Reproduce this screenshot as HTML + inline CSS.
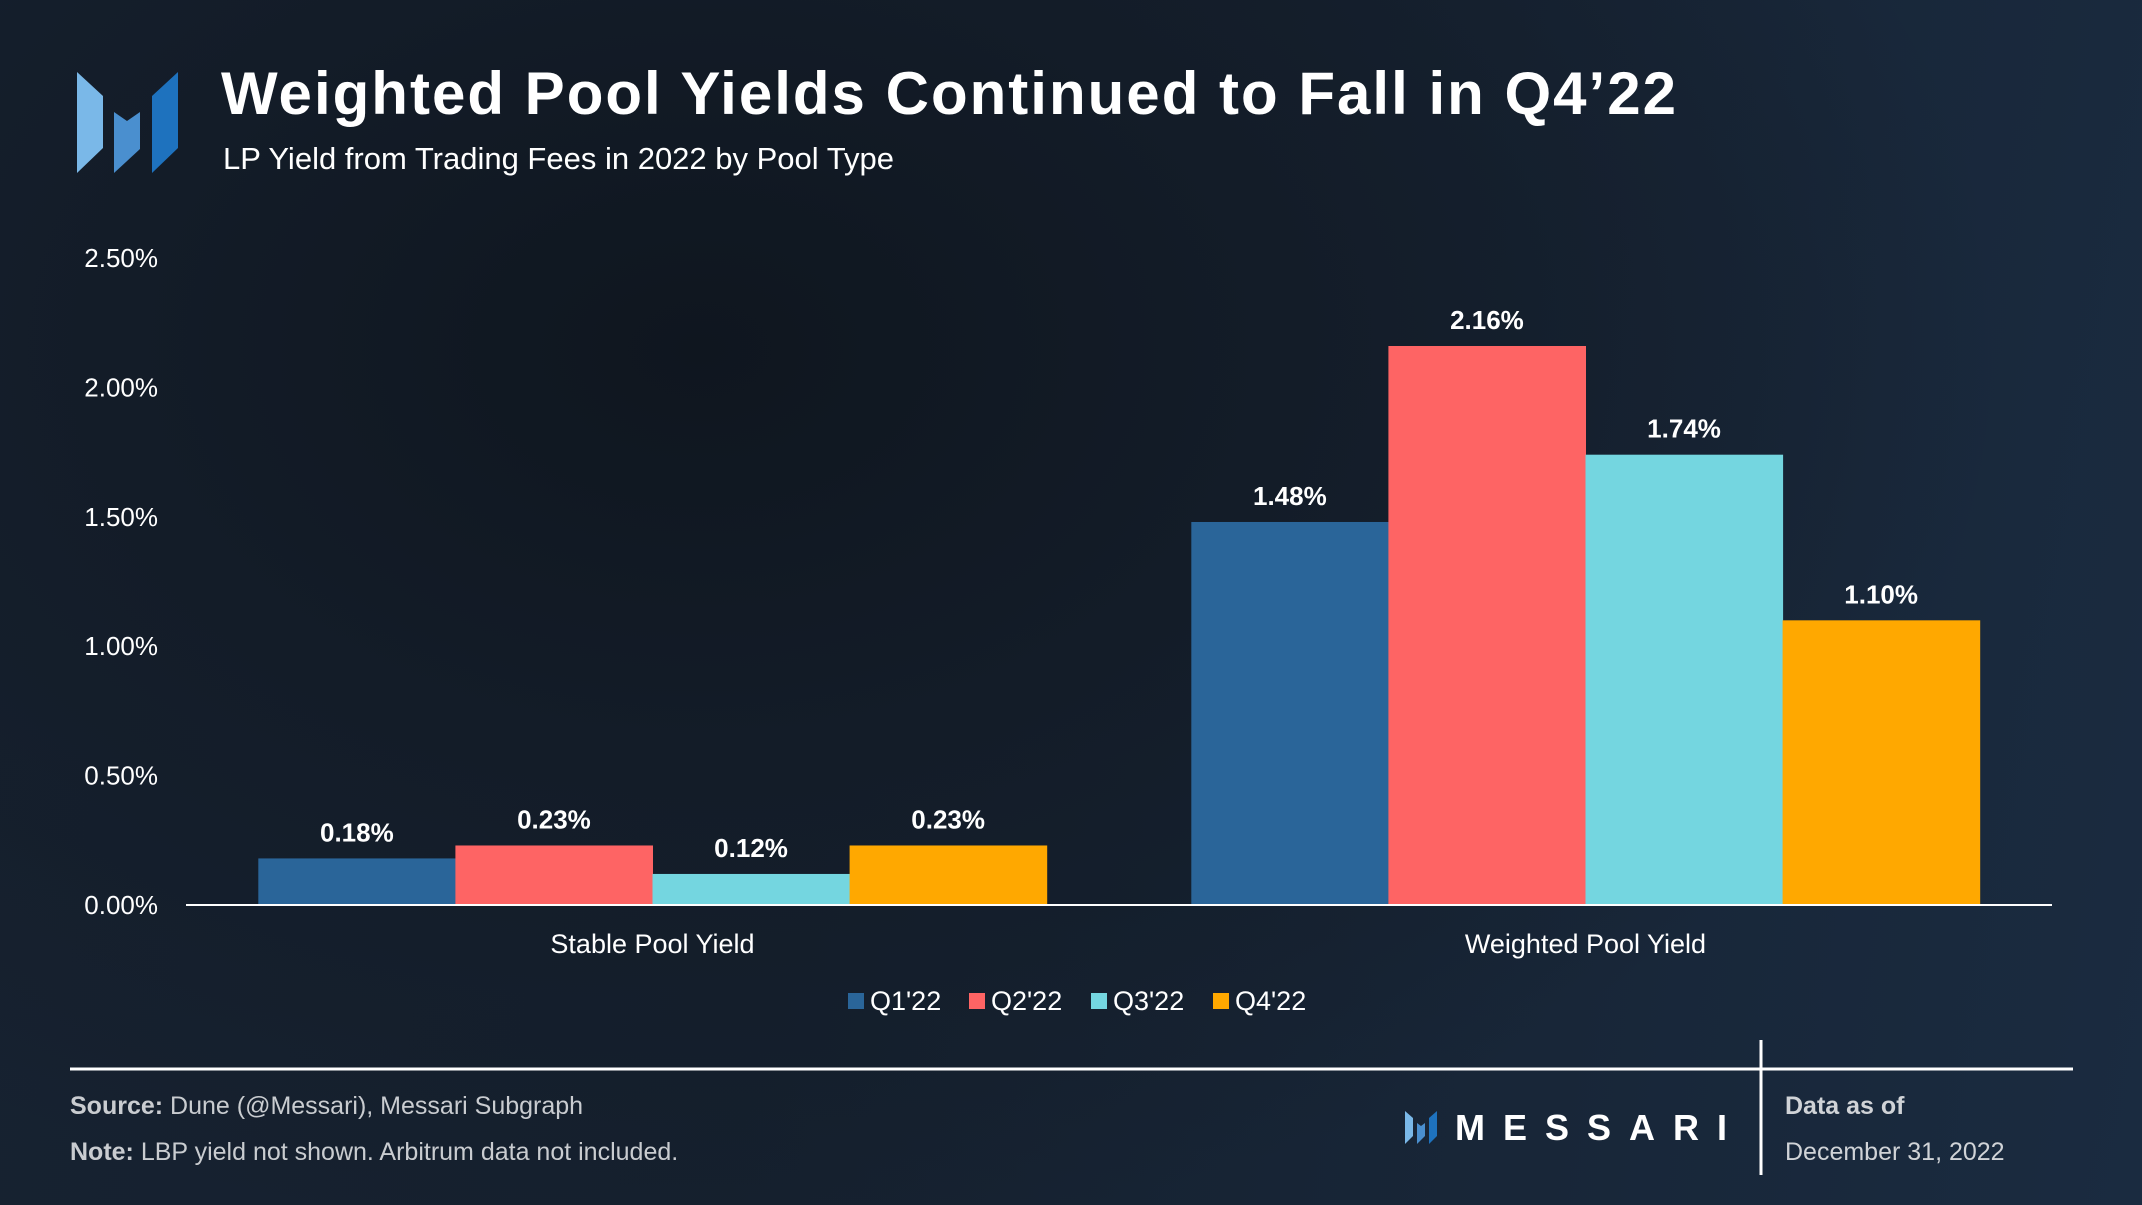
<!DOCTYPE html>
<html><head><meta charset="utf-8"><style>
html,body{margin:0;padding:0}
body{width:2142px;height:1205px;overflow:hidden;font-family:"Liberation Sans",sans-serif;
background:radial-gradient(ellipse 1300px 900px at 700px 350px,#0f161f 0%,#131c28 45%,rgba(19,28,40,0) 100%),linear-gradient(100deg,#172231 0%,#15202e 40%,#1a2b40 100%);}
svg{position:absolute;left:0;top:0}
</style></head><body>
<svg width="2142" height="1205">
<g>
<polygon points="77,72 103,96 103,148 77,173" fill="#7ab8e8"/>
<polygon points="114,112 127,121 140,112 140,149 114,173" fill="#4a8fcf"/>
<polygon points="152,96 178,72 178,148 152,173" fill="#1e72be"/>
</g>
<text x="221" y="114" fill="#fff" font-size="60" font-weight="bold" textLength="1455" lengthAdjust="spacing">Weighted Pool Yields Continued to Fall in Q4’22</text>
<text x="223" y="169" fill="#fff" font-size="31">LP Yield from Trading Fees in 2022 by Pool Type</text>
<g id="yaxis"></g>
<g id="bars"></g>
<line x1="186" y1="905" x2="2052" y2="905" stroke="#fff" stroke-width="2"/>
<g id="xlabels"></g>
<g id="legend"></g>
<line x1="70" y1="1069" x2="2073" y2="1069" stroke="#fff" stroke-width="3"/>
<line x1="1761" y1="1040" x2="1761" y2="1175" stroke="#fff" stroke-width="3"/>
<text x="70" y="1114" fill="#c9ccd0" font-size="25"><tspan font-weight="bold">Source:</tspan> Dune (@Messari), Messari Subgraph</text>
<text x="70" y="1160" fill="#c9ccd0" font-size="25"><tspan font-weight="bold">Note:</tspan> LBP yield not shown. Arbitrum data not included.</text>
<g>
<polygon points="1405,1111 1413,1118 1413,1136 1405,1144" fill="#7ab8e8"/>
<polygon points="1417,1123 1421,1126 1425,1123 1425,1136 1417,1144" fill="#4a8fcf"/>
<polygon points="1429,1118 1437,1111 1437,1136 1429,1144" fill="#1e72be"/>
<text x="1455" y="1140" fill="#fff" font-size="36" font-weight="bold" textLength="272" lengthAdjust="spacing">MESSARI</text>
</g>
<text x="1785" y="1114" fill="#d0d3d7" font-size="25" font-weight="bold">Data as of</text>
<text x="1785" y="1160" fill="#d0d3d7" font-size="25">December 31, 2022</text>
</svg>
<script>
const categories=["Stable Pool Yield","Weighted Pool Yield"];
const seriesNames=["Q1'22","Q2'22","Q3'22","Q4'22"];
const q1=[0.18,1.48];
const q2=[0.23,2.16];
const q3=[0.12,1.74];
const q4=[0.23,1.10];
const yTicks=[0,0.5,1,1.5,2,2.5];
const colors=["#2a6599","#fe6464","#74d6e0","#ffa800"];
const series=[q1,q2,q3,q4];
const NS="http://www.w3.org/2000/svg";
const x0=186,x1=2052,y0=905,yTop=258,yMax=2.5;
const yScale=v=>y0-(v/yMax)*(y0-yTop);
const band=(x1-x0)/categories.length;
const barW=band*0.845/series.length;
function mk(tag,attrs,parent,txt){const e=document.createElementNS(NS,tag);for(const k in attrs)e.setAttribute(k,attrs[k]);if(txt!==undefined)e.textContent=txt;parent.appendChild(e);return e;}
const ya=document.getElementById('yaxis');
yTicks.forEach(t=>{const e=mk('text',{x:158,y:yScale(t)+9,fill:'#fff','font-size':26,'text-anchor':'end'},ya,t.toFixed(2)+'%');

});
const bg=document.getElementById('bars');
categories.forEach((c,ci)=>{const cx=x0+band*(ci+0.5);const start=cx-barW*series.length/2;
series.forEach((s,si)=>{const v=s[ci];const bx=start+si*barW;const by=yScale(v);
const r=mk('rect',{x:bx,y:by,width:barW+0.5,height:y0-by,fill:colors[si]},bg);


const l=mk('text',{x:bx+barW/2,y:by-17,fill:'#fff','font-size':26,'font-weight':'bold','text-anchor':'middle'},bg,v.toFixed(2)+'%');

});
const xl=mk('text',{x:cx,y:953,fill:'#fff','font-size':27,'text-anchor':'middle'},document.getElementById('xlabels'),c);

});
const lg=document.getElementById('legend');
const lx=[848,969,1091,1213];
seriesNames.forEach((n,i)=>{const g=mk('g',{},lg);


mk('rect',{x:lx[i],y:993,width:16,height:16,fill:colors[i]},g);
mk('text',{x:lx[i]+22,y:1010,fill:'#fff','font-size':27},g,n);});
</script>
</body></html>
